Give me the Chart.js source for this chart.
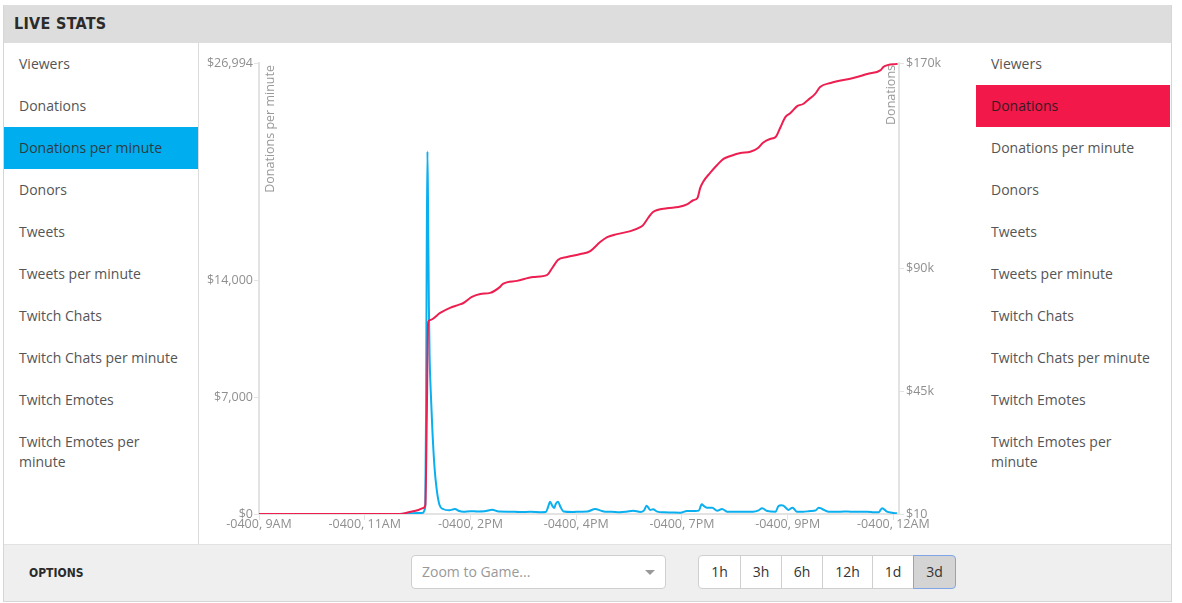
<!DOCTYPE html>
<html lang="en">
<head>
    <meta charset="UTF-8">
    <title>Live Stats</title>
    <script src="https://cdn.jsdelivr.net/npm/chart.js"></script>
    <style>
        body { margin: 0; background: #fff; font-family: "Open Sans", sans-serif; }
        .panel { position: absolute; left: 3px; top: 5px; width: 1169px; height: 597px; box-sizing: border-box; border: 1px solid #d6d6d6; }
        .header { position: absolute; left: 4px; top: 5px; width: 1167px; height: 38px; background: #dddddd; }
        .header h1 { margin: 0; position: absolute; left: 10px; top: 0; font: bold 16px "DejaVu Sans Condensed", "DejaVu Sans", sans-serif; line-height: 38px; color: #2b2b2b; letter-spacing: 0.3px; }
        .side { position: absolute; top: 43px; width: 194px; height: 501px; margin: 0; padding: 0; list-style: none; }
        .side.left { left: 4px; border-right: 1px solid #dcdcdc; }
        .side.right { left: 976px; }
        .side li { padding: 11px 15px; line-height: 20px; font-size: 14px; color: #555; }
        .side li.on-blue { background: #00aeef; color: #2d3b40; }
        .side li.on-red { background: #f2184a; color: #3a1a22; }
        .chart-box { position: absolute; left: 199px; top: 43px; width: 777px; height: 501px; }
        .options { position: absolute; left: 4px; top: 544px; width: 1167px; height: 57px; background: #efefef; border-top: 1px solid #e2e2e2; box-sizing: border-box; }
        .options h2 { margin: 0; position: absolute; left: 25px; top: 0; font: bold 12px "DejaVu Sans Condensed", "DejaVu Sans", sans-serif; line-height: 56px; color: #2b2b2b; }
        .select { position: absolute; left: 407px; top: 10px; width: 255px; height: 34px; box-sizing: border-box; background: #fff; border: 1px solid #cfcfcf; border-radius: 4px; font-size: 14px; color: #999; line-height: 32px; padding-left: 10px; }
        .select:after { content: ""; position: absolute; right: 10px; top: 14px; border: 5px solid transparent; border-top: 5px solid #999; border-bottom: 0; }
        .btns { position: absolute; left: 694px; top: 10px; height: 34px; display: flex; }
        .btns span { display: block; height: 34px; box-sizing: border-box; border: 1px solid #cfcfcf; margin-left: -1px; background: #fff; font-size: 14px; color: #333; line-height: 32px; text-align: center; }
        .btns span:first-child { border-radius: 4px 0 0 4px; margin-left: 0; }
        .btns span.active { background: #d4d4d4; border-color: #7fa6e6; border-radius: 0 4px 4px 0; }
    </style>
</head>
<body>
    <div class="panel"></div>
    <div class="header"><h1>LIVE STATS</h1></div>

    <ul class="side left">
        <li>Viewers</li>
        <li>Donations</li>
        <li class="on-blue">Donations per minute</li>
        <li>Donors</li>
        <li>Tweets</li>
        <li>Tweets per minute</li>
        <li>Twitch Chats</li>
        <li>Twitch Chats per minute</li>
        <li>Twitch Emotes</li>
        <li>Twitch Emotes per minute</li>
    </ul>

    <div class="chart-box"><canvas id="statsChart"></canvas></div>

    <ul class="side right">
        <li>Viewers</li>
        <li class="on-red">Donations</li>
        <li>Donations per minute</li>
        <li>Donors</li>
        <li>Tweets</li>
        <li>Tweets per minute</li>
        <li>Twitch Chats</li>
        <li>Twitch Chats per minute</li>
        <li>Twitch Emotes</li>
        <li>Twitch Emotes per minute</li>
    </ul>

    <div class="options">
        <h2>OPTIONS</h2>
        <div class="select">Zoom to Game...</div>
        <div class="btns">
            <span style="width:43px">1h</span>
            <span style="width:42px">3h</span>
            <span style="width:42px">6h</span>
            <span style="width:51px">12h</span>
            <span style="width:42px">1d</span>
            <span class="active" style="width:43px">3d</span>
        </div>
    </div>

    <script>
        // minutes since 9AM (-0400)
        const timeTicks = [0, 150, 300, 450, 600, 750, 900];
        const timeLabels = ['-0400, 9AM', '-0400, 11AM', '-0400, 2PM', '-0400, 4PM', '-0400, 7PM', '-0400, 9PM', '-0400, 12AM'];

        const rateTicks = [0, 7000, 14000, 26994];
        const rateTickLabels = ['$0', '$7,000', '$14,000', '$26,994'];
        const totalTicks = [10, 45000, 90000, 165000];
        const totalTickLabels = ['$10', '$45k', '$90k', '$170k'];

        // Donations per minute (left axis)
        const rateTimes = [200, 215, 225, 233, 235, 236, 237, 238, 239, 240, 241,
            242, 244, 246, 249, 252, 256, 261, 270, 278, 284,
            290, 300, 310, 320, 331, 340, 356, 370, 385, 400,
            407, 410, 413, 416, 419, 421, 424, 428, 432, 445,
            456, 466, 477, 485, 491, 500, 512, 521, 531, 541,
            546, 550, 555, 559, 565, 575, 585, 598, 607, 619,
            624, 628, 632, 636, 643, 650, 657, 664, 675, 688,
            701, 708, 714, 721, 733, 737, 741, 744, 748, 751,
            757, 763, 772, 782, 790, 794, 799, 808, 820, 830,
            839, 850, 863, 872, 879, 884, 891, 898, 905];
        const rateValues = [0, 40, 60, 80, 250, 600, 6000, 16000, 21700, 17500, 12500,
            9500, 7000, 5000, 2800, 1500, 550, 300, 220, 300, 180,
            140, 170, 150, 160, 260, 150, 140, 120, 130, 110,
            120, 400, 740, 500, 360, 600, 740, 400, 150, 120,
            140, 150, 300, 200, 140, 130, 110, 140, 200, 120,
            200, 500, 240, 280, 140, 100, 90, 80, 180, 180,
            200, 580, 450, 380, 380, 200, 300, 140, 130, 140,
            140, 200, 340, 180, 140, 480, 520, 500, 350, 240,
            380, 140, 130, 180, 220, 380, 300, 140, 130, 150,
            140, 130, 140, 110, 100, 340, 140, 80, 40];

        // Donations total (right axis)
        const totalTimes = [0, 200, 214, 226, 233, 236, 238, 240, 243, 257,
            271, 283, 290, 302, 314, 328, 342, 346, 366, 389,
            409, 416, 424, 437, 456, 470, 484, 494, 508, 527,
            541, 545, 552, 559, 579, 595, 608, 616, 622, 626,
            630, 640, 650, 659, 669, 683, 697, 708, 715, 725,
            733, 740, 747, 754, 764, 772, 779, 789, 796, 811,
            843, 863, 882, 886, 906];
        const totalValues = [10, 10, 740, 1460, 2200, 3300, 34400, 70250, 71000, 73550,
            75400, 76500, 77200, 79400, 80500, 80900, 83100, 84200, 85300, 86700,
            87500, 90000, 92900, 94000, 95100, 96200, 99500, 101300, 102400, 103500,
            105000, 105700, 108300, 110500, 111900, 112300, 113400, 114800, 115600, 119300,
            121500, 124800, 127700, 129900, 131000, 132100, 132500, 133900, 135800, 137200,
            137900, 141600, 145300, 146700, 149300, 150000, 151500, 153700, 156200, 157700,
            159500, 161000, 162400, 163600, 164700];

        const axisGray = '#e3e3e3';
        const tickFont = { family: '"Open Sans", sans-serif', size: 12.5 };

        // rotated axis titles sit inside the plot area
        const axisTitles = {
            id: 'axisTitles',
            beforeDatasetsDraw(chart) {
                const { ctx, chartArea } = chart;
                ctx.save();
                ctx.font = '12.5px "Open Sans", sans-serif';
                ctx.fillStyle = '#999';
                ctx.textAlign = 'right';
                ctx.textBaseline = 'middle';
                ctx.translate(chartArea.left + 11, chartArea.top + 2);
                ctx.rotate(-Math.PI / 2);
                ctx.fillText('Donations per minute', 0, 0);
                ctx.restore();
                ctx.save();
                ctx.font = '12.5px "Open Sans", sans-serif';
                ctx.fillStyle = '#999';
                ctx.textAlign = 'right';
                ctx.textBaseline = 'middle';
                ctx.translate(chartArea.right - 8, chartArea.top + 2);
                ctx.rotate(-Math.PI / 2);
                ctx.fillText('Donations', 0, 0);
                ctx.restore();
            }
        };

        function fixedTicks(values) {
            return function (scale) {
                scale.ticks = values.map(v => ({ value: v }));
            };
        }

        new Chart(document.getElementById('statsChart'), {
            type: 'line',
            data: {
                datasets: [
                    {
                        label: 'Donations per minute',
                        data: rateTimes.map((t, i) => ({ x: t, y: rateValues[i] })),
                        yAxisID: 'y',
                        borderColor: '#0aaff0',
                        borderWidth: 2,
                        pointRadius: 0,
                        cubicInterpolationMode: 'monotone',
                        order: 2
                    },
                    {
                        label: 'Donations',
                        data: totalTimes.map((t, i) => ({ x: t, y: totalValues[i] })),
                        yAxisID: 'y2',
                        borderColor: '#ec1f50',
                        borderWidth: 2,
                        pointRadius: 0,
                        cubicInterpolationMode: 'monotone',
                        order: 1
                    }
                ]
            },
            options: {
                responsive: true,
                maintainAspectRatio: false,
                animation: false,
                layout: { padding: { top: 20 } },
                plugins: { legend: { display: false }, tooltip: { enabled: false } },
                scales: {
                    x: {
                        type: 'linear',
                        min: 0,
                        max: 908,
                        afterBuildTicks: fixedTicks(timeTicks),
                        afterFit(scale) { scale.height = 30; },
                        grid: { drawOnChartArea: false, tickLength: 6, color: axisGray },
                        border: { color: axisGray, width: 2 },
                        ticks: {
                            autoSkip: false,
                            maxRotation: 0,
                            padding: -3,
                            color: '#8f8f8f',
                            font: tickFont,
                            callback: v => timeLabels[timeTicks.indexOf(v)]
                        }
                    },
                    y: {
                        position: 'left',
                        min: 0,
                        max: 26994,
                        afterBuildTicks: fixedTicks(rateTicks),
                        afterFit(scale) { scale.width = 60; },
                        grid: { drawOnChartArea: false, tickLength: 5, color: axisGray },
                        border: { color: axisGray, width: 2 },
                        ticks: {
                            padding: 1,
                            color: '#8f8f8f',
                            font: tickFont,
                            callback: v => rateTickLabels[rateTicks.indexOf(v)]
                        }
                    },
                    y2: {
                        position: 'right',
                        min: 10,
                        max: 165000,
                        afterBuildTicks: fixedTicks(totalTicks),
                        afterFit(scale) { scale.width = 77; },
                        grid: { drawOnChartArea: false, tickLength: 5, color: axisGray },
                        border: { color: axisGray, width: 2 },
                        ticks: {
                            padding: 2,
                            color: '#8f8f8f',
                            font: tickFont,
                            callback: v => totalTickLabels[totalTicks.indexOf(v)]
                        }
                    }
                }
            },
            plugins: [axisTitles]
        });
    </script>
</body>
</html>
